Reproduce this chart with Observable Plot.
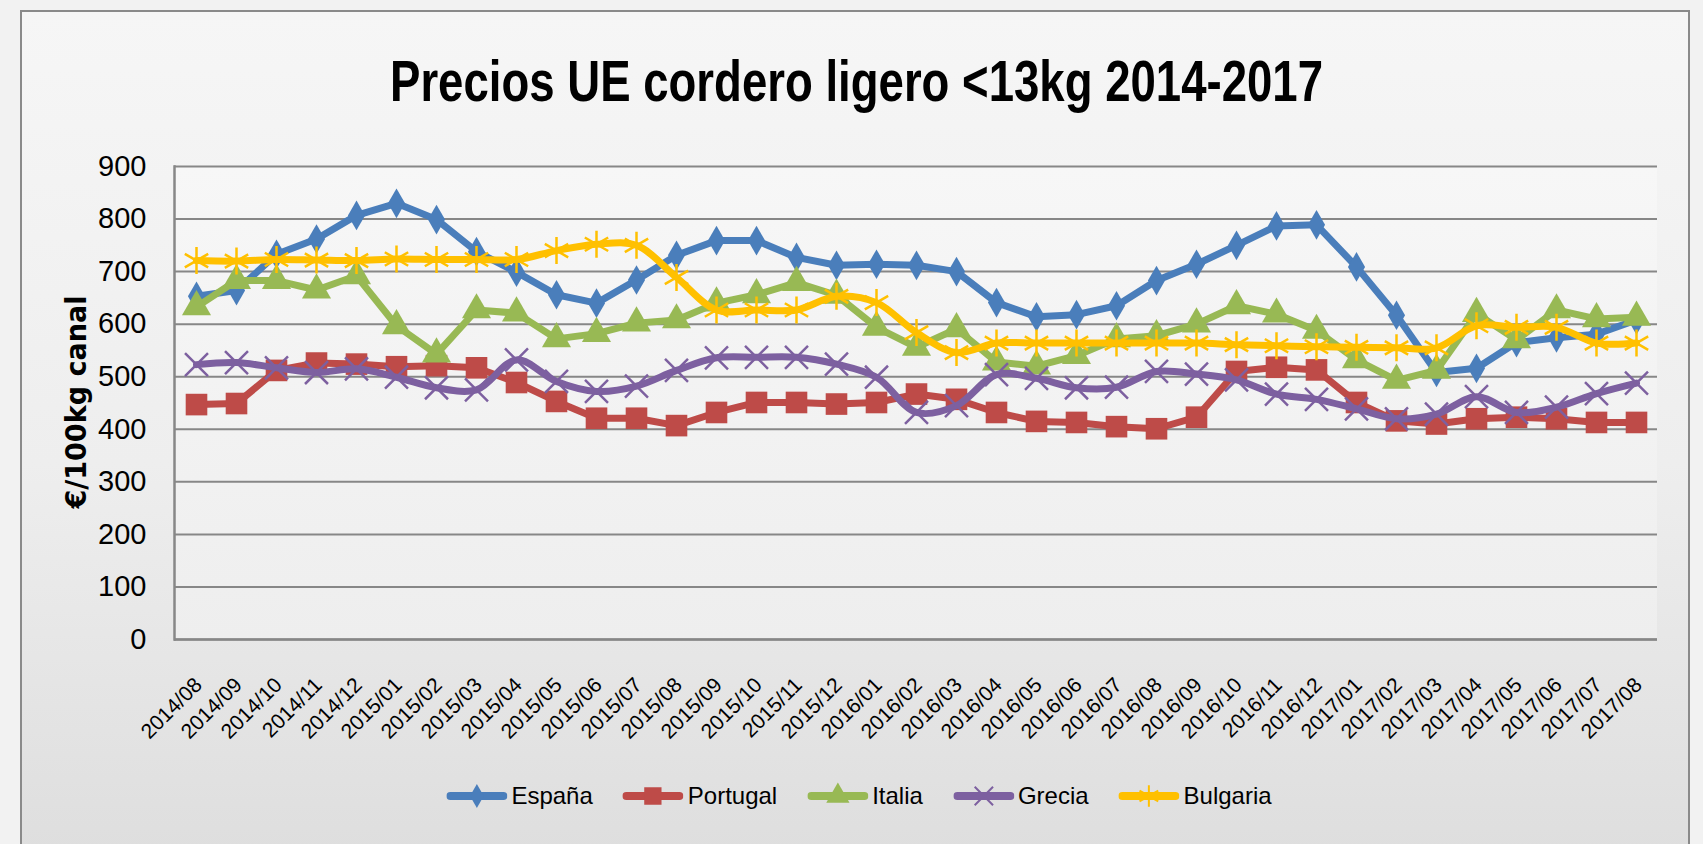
<!DOCTYPE html>
<html><head><meta charset="utf-8">
<script src="https://cdn.jsdelivr.net/npm/d3@7"></script>
<script src="https://cdn.jsdelivr.net/npm/@observablehq/plot@0.6"></script>
<style>
html,body{margin:0;padding:0;width:1703px;height:844px;overflow:hidden;background:#f2f2f2;}
#frame{position:absolute;left:20px;top:10px;width:1670px;height:900px;border:2px solid #8a8a8a;box-sizing:border-box;background:linear-gradient(#f6f6f6 0px,#eeeeee 450px,#dedede 840px);}
#plotbg{position:absolute;left:174px;top:166px;width:1483px;height:473px;background:linear-gradient(#f7f7f7,#eeeeee);}
.abs{position:absolute;left:0;top:0;}
#legend{position:absolute;top:779px;left:859px;transform:translateX(-50%);display:flex;align-items:center;gap:30px;font-family:"Liberation Sans Narrow","Arial Narrow","Liberation Sans",sans-serif;font-size:24px;white-space:nowrap;color:#000;}
#legend .item{display:flex;align-items:center;}
#legend .item span{margin-left:4px;}
</style></head>
<body>
<div id="frame"></div>
<div id="plotbg"></div>
<svg class="abs" id="title" width="1703" height="130">
  <text x="856.5" y="101" text-anchor="middle" textLength="933" lengthAdjust="spacingAndGlyphs"
    font-family="Liberation Sans Narrow, Arial Narrow, Liberation Sans, sans-serif" font-weight="bold" font-size="58" fill="#000">Precios UE cordero ligero &lt;13kg 2014-2017</text>
</svg>
<svg class="abs" id="ylab" width="200" height="844">
  <text transform="translate(86,402) rotate(-90)" text-anchor="middle" textLength="213" lengthAdjust="spacingAndGlyphs"
    font-family="DejaVu Sans, Verdana, sans-serif" font-weight="bold" font-size="28" fill="#000">€/100kg canal</text>
</svg>
<div class="abs" id="chart"></div>
<div id="legend"></div>
<script>
const months = ["2014/08","2014/09","2014/10","2014/11","2014/12",
  "2015/01","2015/02","2015/03","2015/04","2015/05","2015/06","2015/07","2015/08","2015/09","2015/10","2015/11","2015/12",
  "2016/01","2016/02","2016/03","2016/04","2016/05","2016/06","2016/07","2016/08","2016/09","2016/10","2016/11","2016/12",
  "2017/01","2017/02","2017/03","2017/04","2017/05","2017/06","2017/07","2017/08"];
const yTicks = [0,100,200,300,400,500,600,700,800,900];
const seriesNames = ["España","Portugal","Italia","Grecia","Bulgaria"];
const espana   = [653,664,733,762,807,830,799,738,699,656,640,684,731,759,759,727,712,714,712,700,641,614,618,635,683,714,750,787,789,709,617,508,516,565,574,581,608];
const portugal = [447,449,512,526,524,519,521,517,489,453,421,421,407,432,451,451,448,451,467,457,432,415,413,405,401,423,510,518,513,451,416,410,420,423,420,413,413];
const italia   = [633,683,683,665,692,597,543,627,621,572,582,602,608,640,656,679,655,594,556,591,528,520,540,572,578,600,635,619,588,532,493,512,620,570,627,610,613];
const grecia   = [523,527,517,508,515,499,479,475,532,491,472,482,512,536,537,537,524,499,432,445,504,497,479,480,510,505,494,467,457,439,420,429,462,432,442,468,488];
const bulgaria = [721,720,723,722,721,724,723,723,723,740,752,750,689,627,627,627,653,641,584,546,564,564,564,564,564,564,561,559,557,556,555,555,597,594,594,564,564];
const colors = ["#4A7EBB","#BE4B48","#98B954","#7D60A0","#FFC000"];

const style = [
  {symbol:"diamond",  r:9,    filled:true,  curve:"linear"},
  {symbol:"square",   r:12.2, filled:true,  curve:"linear"},
  {symbol:"triangle", r:10.8, filled:true,  curve:"linear"},
  {symbol:"times",    r:10.5, filled:false, curve:"catmull-rom"},
  {symbol:"asterisk", r:12.8, filled:false, curve:"catmull-rom"}
];
const values = [espana, portugal, italia, grecia, bulgaria];
const series = seriesNames.map((name,k)=>({name, values: values[k], color: colors[k], ...style[k]}));

const W = 1703, H = 760;
const marks = [
  Plot.gridY(yTicks, {stroke:"#878787", strokeOpacity:1, strokeWidth:2}),
  Plot.frame({anchor:"left", stroke:"#878787", strokeWidth:2.5}),
  Plot.ruleY([0], {stroke:"#878787", strokeWidth:2.5})
];
for (const s of series) {
  const data = s.values.map((v,i)=>({month: months[i], value: v}));
  marks.push(Plot.lineY(data, {x:"month", y:"value", stroke:s.color, strokeWidth:7, curve:s.curve, strokeLinejoin:"round", strokeLinecap:"round"}));
  marks.push(Plot.dot(data, s.filled
    ? {x:"month", y:"value", symbol:s.symbol, r:s.r, fill:s.color, stroke:"none"}
    : {x:"month", y:"value", symbol:s.symbol, r:s.r, fill:"none", stroke:s.color, strokeWidth:2.5}));
}
marks.push(Plot.axisY(yTicks, {tickSize:0, tickPadding:28, fontSize:29, label:null}));
marks.push(Plot.axisX({tickSize:0, tickRotate:-45, tickPadding:42, dx:2, fontSize:21, label:null}));

const chart = Plot.plot({
  width: W, height: H,
  marginLeft: 174, marginRight: 46, marginTop: 166, marginBottom: H - 639,
  style: {background:"transparent", fontFamily:'"Liberation Sans Narrow","Arial Narrow","Liberation Sans",sans-serif', color:"#000", overflow:"visible"},
  x: {type:"point", domain: months, padding:0.5},
  y: {domain:[0,900]},
  marks
});
document.getElementById("chart").appendChild(chart);

// legend
const leg = document.getElementById("legend");
for (const s of series) {
  const item = document.createElement("div"); item.className = "item";
  const sym = d3.symbol().type({diamond:d3.symbolDiamond, square:d3.symbolSquare, triangle:d3.symbolTriangle, times:d3.symbolTimes, asterisk:d3.symbolAsterisk}[s.symbol]).size(Math.PI*(s.r*0.8)**2)();
  const svgNS = "http://www.w3.org/2000/svg";
  const sv = document.createElementNS(svgNS,"svg");
  sv.setAttribute("width","61"); sv.setAttribute("height","34");
  const ln = document.createElementNS(svgNS,"line");
  ln.setAttribute("x1","4"); ln.setAttribute("x2","57"); ln.setAttribute("y1","17"); ln.setAttribute("y2","17");
  ln.setAttribute("stroke", s.color); ln.setAttribute("stroke-width","8"); ln.setAttribute("stroke-linecap","round");
  sv.appendChild(ln);
  const p = document.createElementNS(svgNS,"path");
  p.setAttribute("d", sym); p.setAttribute("transform","translate(30.5,17)");
  if (s.filled) { p.setAttribute("fill", s.color); } else { p.setAttribute("fill","none"); p.setAttribute("stroke", s.color); p.setAttribute("stroke-width","2"); }
  sv.appendChild(p);
  const t = document.createElement("span"); t.textContent = s.name;
  item.appendChild(sv); item.appendChild(t);
  leg.appendChild(item);
}
</script>
</body></html>
